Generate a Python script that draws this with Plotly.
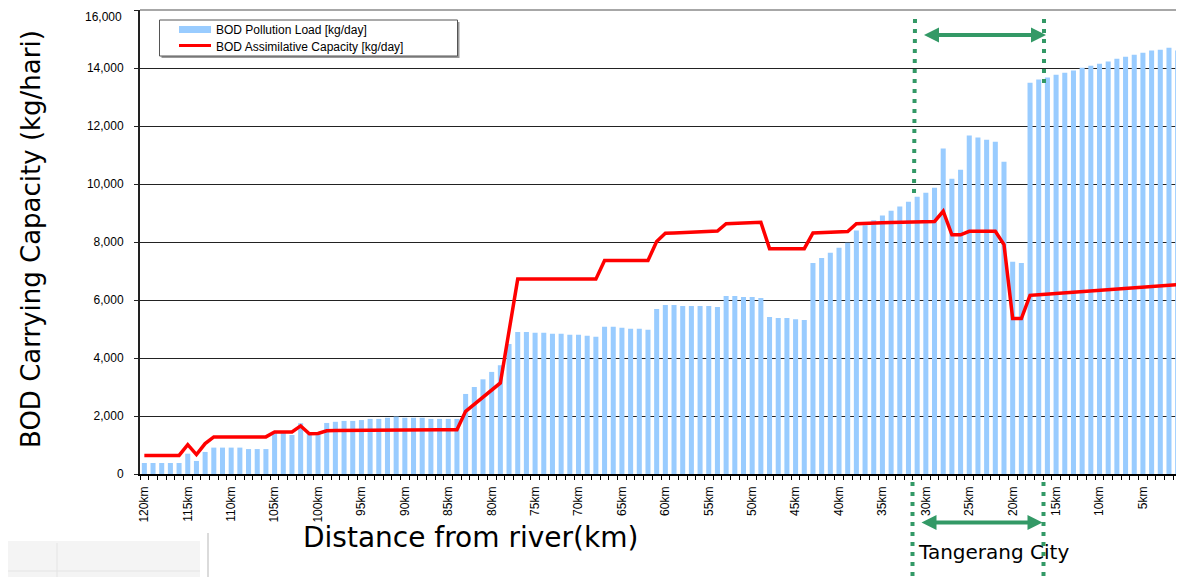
import plotly.graph_objects as go

# ---------------- data ----------------
km = list(range(120, 0, -1))  # categories: 120 km ... 1 km from river mouth

pollution_load = [
    380, 380, 380, 380, 380, 700, 450, 760, 910, 910,
    910, 910, 860, 860, 860, 1420, 1420, 1345, 1750, 1400,
    1400, 1760, 1800, 1830, 1830, 1860, 1900, 1900, 1940, 1980,
    1940, 1940, 1940, 1900, 1900, 1900, 1900, 2760, 3000, 3265,
    3520, 3750, 4480, 4900, 4900, 4870, 4870, 4835, 4835, 4800,
    4800, 4765, 4730, 5077, 5077, 5040, 5010, 5010, 4970, 5690,
    5830, 5830, 5790, 5790, 5790, 5790, 5760, 6140, 6140, 6100,
    6100, 6070, 5410, 5380, 5380, 5340, 5310, 7280, 7450, 7630,
    7800, 7970, 8400, 8575, 8750, 8910, 9080, 9220, 9390, 9560,
    9700, 9870, 11220, 10180, 10490, 11670, 11600, 11530, 11460, 10770,
    7320, 7280, 13490, 13600, 13670, 13770, 13840, 13910, 14010, 14080,
    14150, 14220, 14320, 14390, 14460, 14530, 14600, 14630, 14700, 14600,
]

assimilative_capacity = [
    640, 640, 640, 640, 640, 1010, 670, 1050, 1280, 1280,
    1280, 1280, 1280, 1280, 1280, 1450, 1450, 1450, 1660, 1390,
    1400, 1490, 1500, 1505, 1510, 1515, 1520, 1520, 1525, 1525,
    1530, 1530, 1530, 1530, 1530, 1530, 1530, 2160, 2400, 2650,
    2900, 3140, 4930, 6720, 6720, 6720, 6720, 6720, 6720, 6720,
    6720, 6720, 6720, 7360, 7360, 7360, 7360, 7360, 7360, 8020,
    8300, 8310, 8320, 8330, 8340, 8350, 8380, 8630, 8650, 8660,
    8670, 8680, 7770, 7770, 7770, 7770, 7770, 8310, 8320, 8330,
    8340, 8360, 8630, 8650, 8660, 8660, 8670, 8680, 8690, 8690,
    8700, 8710, 9060, 8250, 8250, 8370, 8370, 8370, 8370, 7910,
    5360, 5360, 6160, 6180, 6200, 6220, 6240, 6260, 6280, 6300,
    6320, 6340, 6360, 6380, 6400, 6420, 6440, 6470, 6500, 6530,
]

tick_km = [120, 115, 110, 105, 100, 95, 90, 85, 80, 75, 70, 65,
           60, 55, 50, 45, 40, 35, 30, 25, 20, 15, 10, 5]
tick_labels = [f"{k}km" for k in tick_km]

y_ticks = [0, 2000, 4000, 6000, 8000, 10000, 12000, 14000, 16000]
y_tick_labels = ["0", "2,000", "4,000", "6,000", "8,000", "10,000", "12,000", "14,000", "16,000"]

series_names = ["BOD Pollution Load [kg/day]", "BOD Assimilative Capacity [kg/day]"]

# ---------------- layout helpers ----------------
# The page body has an 8px margin, so the figure is shifted by OFF px.
OFF = 8
W, H = 1184 - OFF, 577 - OFF
L, R, T, B = 140 - OFF, 2, 10 - OFF, 103
PW = W - L - R
PH = H - T - B


def px(x):  # page pixel -> paper x
    return (x - OFF - L) / PW


def py(y):  # page pixel -> paper y
    return (H - B - (y - OFF)) / PH


BLUE = "#99CCFF"
RED = "#FF0000"
GREEN = "#339966"
XTICKFONT = dict(family="Liberation Sans Narrow, Arial Narrow, Arial, sans-serif", size=12, color="black")
YTICKFONT = dict(family="Arial, Liberation Sans, sans-serif", size=12, color="black")

fig = go.Figure()
fig.add_trace(go.Bar(x=km, y=pollution_load, name=series_names[0],
                     marker=dict(color=BLUE, line=dict(width=0)), showlegend=False))
fig.add_trace(go.Scatter(x=km, y=assimilative_capacity, name=series_names[1],
                         mode="lines", line=dict(color=RED, width=3.5), showlegend=False))

shapes = []
annotations = []

# plot frame (top / right, gray)
shapes.append(dict(type="line", xref="paper", yref="paper", x0=0, x1=1, y0=1, y1=1,
                   line=dict(color="#8a8a8a", width=1.5), layer="above"))
shapes.append(dict(type="line", xref="paper", yref="paper", x0=1, x1=1, y0=0, y1=1,
                   line=dict(color="#8a8a8a", width=1.5), layer="above"))

# legend box
shapes.append(dict(type="rect", xref="paper", yref="paper",
                   x0=px(161.5), x1=px(459.5), y0=py(58), y1=py(22),
                   line=dict(width=0), fillcolor="#9a9a9a", layer="above"))
shapes.append(dict(type="rect", xref="paper", yref="paper",
                   x0=px(159.5), x1=px(457.5), y0=py(56), y1=py(20),
                   line=dict(color="#555555", width=1), fillcolor="white", layer="above"))
shapes.append(dict(type="rect", xref="paper", yref="paper",
                   x0=px(179), x1=px(211), y0=py(33), y1=py(26),
                   line=dict(width=0), fillcolor=BLUE, layer="above"))
shapes.append(dict(type="line", xref="paper", yref="paper",
                   x0=px(179), x1=px(211), y0=py(45.5), y1=py(45.5),
                   line=dict(color=RED, width=3), layer="above"))
annotations.append(dict(xref="paper", yref="paper", x=px(214), y=py(29.5),
                        xanchor="left", yanchor="middle", showarrow=False,
                        text=series_names[0],
                        font=dict(family="Arial, Liberation Sans, sans-serif", size=12, color="black")))
annotations.append(dict(xref="paper", yref="paper", x=px(214), y=py(47),
                        xanchor="left", yanchor="middle", showarrow=False,
                        text=series_names[1],
                        font=dict(family="Arial, Liberation Sans, sans-serif", size=12, color="black")))

# top y tick label, kept inside the page
annotations.append(dict(xref="paper", yref="paper", x=px(124), y=py(8.5),
                        xanchor="right", yanchor="top", showarrow=False,
                        text=y_tick_labels[-1], font=YTICKFONT))

# Tangerang City markers (dotted lines)
dot = dict(color=GREEN, width=4, dash="4px,6px")
for (x0, y0, x1, y1) in [(915, 19, 914, 196), (912.5, 482, 912.5, 580),
                         (1044, 19, 1044, 84), (1043.5, 482, 1043.5, 580)]:
    shapes.append(dict(type="line", xref="paper", yref="paper",
                       x0=px(x0), y0=py(y0), x1=px(x1), y1=py(y1), line=dot, layer="above"))


def arrow(xl, xr, y, head=15, half=7.5, shaft=4):
    out = []
    out.append(dict(type="line", xref="paper", yref="paper",
                    x0=px(xl + head - 2), x1=px(xr - head + 2), y0=py(y), y1=py(y),
                    line=dict(color=GREEN, width=shaft), layer="above"))
    p1 = f"M {px(xl)} {py(y)} L {px(xl + head)} {py(y - half)} L {px(xl + head)} {py(y + half)} Z"
    p2 = f"M {px(xr)} {py(y)} L {px(xr - head)} {py(y - half)} L {px(xr - head)} {py(y + half)} Z"
    for p in (p1, p2):
        out.append(dict(type="path", xref="paper", yref="paper", path=p,
                        fillcolor=GREEN, line=dict(width=0), layer="above"))
    return out


shapes += arrow(924, 1046, 35)
shapes += arrow(921.5, 1042.5, 522.5)

annotations.append(dict(xref="paper", yref="paper", x=px(916), y=py(552),
                        xanchor="left", yanchor="middle", showarrow=False,
                        text="Tangerang City",
                        font=dict(family="DejaVu Sans, sans-serif", size=20, color="black")))

# axis titles
annotations.append(dict(xref="paper", yref="paper", x=px(470), y=py(537),
                        xanchor="center", yanchor="middle", showarrow=False,
                        text="Distance from river(km)",
                        font=dict(family="DejaVu Sans, sans-serif", size=28, color="black")))
annotations.append(dict(xref="paper", yref="paper", x=px(31), y=py(239),
                        xanchor="center", yanchor="middle", showarrow=False, textangle=-90,
                        text="BOD Carrying Capacity (kg/hari)",
                        font=dict(family="DejaVu Sans, sans-serif", size=26, color="black")))

# faint leftover image fragment at the lower-left corner
shapes.append(dict(type="rect", xref="paper", yref="paper",
                   x0=px(8), x1=px(200), y0=py(580), y1=py(541),
                   line=dict(width=0), fillcolor="#f4f4f4", layer="below"))
shapes.append(dict(type="line", xref="paper", yref="paper",
                   x0=px(57), x1=px(57), y0=py(580), y1=py(543),
                   line=dict(color="#e4e4e4", width=1), layer="below"))
shapes.append(dict(type="line", xref="paper", yref="paper",
                   x0=px(8), x1=px(200), y0=py(571), y1=py(571),
                   line=dict(color="#e4e4e4", width=1), layer="below"))
shapes.append(dict(type="line", xref="paper", yref="paper",
                   x0=px(208), x1=px(208), y0=py(580), y1=py(533),
                   line=dict(color="#cfcfcf", width=1.5), layer="below"))

fig.update_layout(
    width=W, height=H,
    margin=dict(l=L, r=R, t=T, b=B, pad=0, autoexpand=False),
    paper_bgcolor="white", plot_bgcolor="white",
    bargap=0.42,
    showlegend=False,
    shapes=shapes,
    annotations=annotations,
    xaxis=dict(
        range=[120.5, 0.5], automargin=False,
        tickmode="array", tickvals=tick_km, ticktext=tick_labels,
        tickangle=-90, tickfont=XTICKFONT,
        ticks="", showgrid=False, zeroline=False,
        showline=True, linecolor="black", linewidth=1.5,
        ticklabelstandoff=6, ticklabeloverflow="allow",
        minor=dict(tick0=0.5, dtick=1, ticks="outside", ticklen=4,
                   tickcolor="black", tickwidth=1, showgrid=False),
    ),
    yaxis=dict(
        range=[0, 16000], automargin=False,
        tickmode="array", tickvals=y_ticks, ticktext=y_tick_labels[:-1] + [""],
        tickfont=YTICKFONT,
        showgrid=True, gridcolor="#222222", gridwidth=1,
        zeroline=False,
        showline=True, linecolor="#222222", linewidth=2,
        ticks="outside", ticklen=4, tickcolor="#222222",
        ticklabelstandoff=8, ticklabeloverflow="allow",
    ),
)

fig.write_html("out.html")
